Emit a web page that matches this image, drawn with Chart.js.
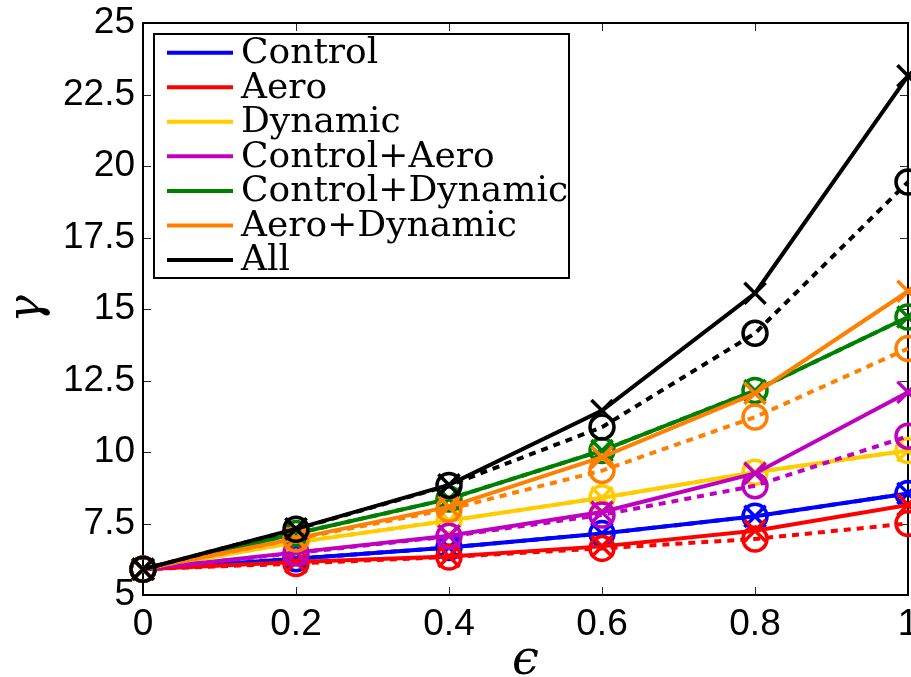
<!DOCTYPE html>
<html><head><meta charset="utf-8">
<script src="https://cdn.jsdelivr.net/npm/chart.js@4.4.0/dist/chart.umd.min.js"></script>
<style>
html,body{margin:0;padding:0;overflow:hidden;background:#fff;width:911px;height:677px}
#wrap{width:960px;height:677px}
</style>
</head><body><div id="wrap"><canvas id="c" width="960" height="677"></canvas></div>
<script>
// ---- data ----
const epsilon = [0, 0.2, 0.4, 0.6, 0.8, 1];
const xTickValues = [0, 0.2, 0.4, 0.6, 0.8, 1];
const yTickValues = [5, 7.5, 10, 12.5, 15, 17.5, 20, 22.5, 25];
const seriesNames = ['Control', 'Aero', 'Dynamic', 'Control+Aero', 'Control+Dynamic', 'Aero+Dynamic', 'All'];
const seriesColors = ['#0000ff', '#ff0000', '#ffcc00', '#bf00bf', '#008000', '#ff8000', '#000000'];

const controlSolid  = [5.9, 6.27, 6.66, 7.15, 7.75, 8.55];
const controlDashed = [5.9, 6.27, 6.66, 7.15, 7.75, 8.55];
const aeroSolid     = [5.9, 6.15, 6.35, 6.70, 7.25, 8.15];
const aeroDashed    = [5.9, 6.10, 6.33, 6.63, 6.96, 7.50];
const dynamicSolid  = [5.9, 6.84, 7.60, 8.40, 9.29, 10.05];
const dynamicDashed = [5.9, 6.84, 7.60, 8.40, 9.29, 10.05];
const ctrlAeroSolid  = [5.9, 6.49, 7.07, 7.90, 9.25, 12.09];
const ctrlAeroDashed = [5.9, 6.47, 7.05, 7.80, 8.82, 10.55];
const ctrlDynSolid   = [5.9, 7.15, 8.36, 10.05, 12.15, 14.72];
const ctrlDynDashed  = [5.9, 7.15, 8.36, 10.05, 12.15, 14.72];
const aeroDynSolid   = [5.9, 6.98, 8.08, 9.82, 12.05, 15.62];
const aeroDynDashed  = [5.9, 6.96, 8.00, 9.35, 11.22, 13.62];
const allSolid       = [5.9, 7.31, 8.85, 11.45, 15.55, 23.15];
const allDashed      = [5.9, 7.30, 8.83, 10.87, 14.15, 19.44];

const solidSeries  = [controlSolid, aeroSolid, dynamicSolid, ctrlAeroSolid, ctrlDynSolid, aeroDynSolid, allSolid];
const dashedSeries = [controlDashed, aeroDashed, dynamicDashed, ctrlAeroDashed, ctrlDynDashed, aeroDynDashed, allDashed];

// ---- datasets ----
const datasets = [];
const total = seriesNames.length * 2;
seriesNames.forEach((name, i) => {
  const col = seriesColors[i];
  datasets.push({
    label: name, inLegend: true,
    data: epsilon.map((x, k) => ({x: x, y: solidSeries[i][k]})),
    borderColor: col, backgroundColor: col, borderWidth: 4, fill: false, tension: 0,
    pointStyle: 'crossRot', pointRadius: 15, pointBorderWidth: 3.5,
    pointBorderColor: col, pointBackgroundColor: 'rgba(0,0,0,0)',
    clip: false, order: total - datasets.length
  });
  datasets.push({
    label: name + ' (dashed)', inLegend: false,
    data: epsilon.map((x, k) => ({x: x, y: dashedSeries[i][k]})),
    borderColor: col, backgroundColor: col, borderWidth: 4, borderDash: [7, 6], fill: false, tension: 0,
    pointStyle: 'circle', pointRadius: 12, pointBorderWidth: 3.5,
    pointBorderColor: col, pointBackgroundColor: 'rgba(0,0,0,0)',
    clip: false, order: total - datasets.length
  });
});

// ---- plugins ----
const frame = {
  id: 'frame',
  beforeDatasetsDraw(chart) {
    const {ctx, chartArea: a, scales} = chart;
    ctx.save();
    ctx.strokeStyle = '#262626';
    ctx.lineWidth = 1;
    const L = 8;
    scales.x.ticks.forEach(t => {
      const px = Math.round(scales.x.getPixelForValue(t.value)) + 0.5;
      if (px <= a.left + 2 || px >= a.right - 2) return;
      ctx.beginPath();
      ctx.moveTo(px, a.bottom); ctx.lineTo(px, a.bottom - L);
      ctx.moveTo(px, a.top); ctx.lineTo(px, a.top + L);
      ctx.stroke();
    });
    scales.y.ticks.forEach(t => {
      const py = Math.round(scales.y.getPixelForValue(t.value)) + 0.5;
      if (py <= a.top + 2 || py >= a.bottom - 2) return;
      ctx.beginPath();
      ctx.moveTo(a.left, py); ctx.lineTo(a.left + L, py);
      ctx.moveTo(a.right, py); ctx.lineTo(a.right - L, py);
      ctx.stroke();
    });
    ctx.strokeStyle = '#000';
    ctx.lineWidth = 2;
    ctx.strokeRect(a.left, a.top, a.right - a.left, a.bottom - a.top);
    ctx.restore();
  }
};

const boxLegend = {
  id: 'boxLegend',
  afterDraw(chart) {
    const {ctx, chartArea: a} = chart;
    const x0 = a.left + 11, y0 = a.top + 11, w = 415, h = 244;
    ctx.save();
    ctx.fillStyle = '#fff';
    ctx.fillRect(x0, y0, w, h);
    ctx.strokeStyle = '#000';
    ctx.lineWidth = 2;
    ctx.strokeRect(x0, y0, w, h);
    const items = chart.data.datasets.filter(d => d.inLegend);
    ctx.font = '36px "DejaVu Serif"';
    ctx.textBaseline = 'middle';
    ctx.textAlign = 'left';
    items.forEach((d, i) => {
      const yy = y0 + 18.7 + i * 34.55;
      ctx.strokeStyle = d.borderColor;
      ctx.lineWidth = 4;
      ctx.beginPath();
      ctx.moveTo(x0 + 13, yy); ctx.lineTo(x0 + 79, yy);
      ctx.stroke();
      ctx.fillStyle = '#000';
      ctx.fillText(d.label, x0 + 87, yy + 1);
    });
    ctx.restore();
  }
};

const fmt = v => String(Number(Number(v).toFixed(3)));

new Chart(document.getElementById('c'), {
  type: 'line',
  data: {datasets: datasets},
  options: {
    responsive: false, animation: false, devicePixelRatio: 1, events: [],
    layout: {padding: {left: 0, top: 23, right: 52, bottom: 0}},
    plugins: {legend: {display: false}, tooltip: {enabled: false}},
    scales: {
      x: {
        type: 'linear', min: 0, max: 1,
        afterBuildTicks: s => { s.ticks = xTickValues.map(v => ({value: v})); },
        afterFit: s => { s.height = 82; s.paddingLeft = 0; s.paddingRight = 0; },
        grid: {display: false, drawTicks: false},
        border: {display: false},
        ticks: {padding: 8, color: '#000', font: {family: '"Liberation Sans", Arial, sans-serif', size: 37}, callback: v => fmt(v), maxRotation: 0, autoSkip: false},
        title: {display: true, text: 'ϵ', color: '#000', padding: {top: 0, bottom: 0},
                font: {family: '"DejaVu Serif"', style: 'italic', size: 48, lineHeight: 0.64}}
      },
      y: {
        type: 'linear', min: 5, max: 25,
        afterBuildTicks: s => { s.ticks = yTickValues.map(v => ({value: v})); },
        afterFit: s => { s.width = 143; s.paddingTop = 0; s.paddingBottom = 0; },
        grid: {display: false, drawTicks: false},
        border: {display: false},
        ticks: {padding: 8, color: '#000', font: {family: '"Liberation Sans", Arial, sans-serif', size: 37}, callback: v => fmt(v), autoSkip: false},
        title: {display: true, text: 'γ', color: '#000', padding: {top: 5, bottom: 0},
                font: {family: '"DejaVu Serif"', style: 'italic', size: 46, lineHeight: 1}}
      }
    }
  },
  plugins: [frame, boxLegend]
});
</script>
</body></html>
